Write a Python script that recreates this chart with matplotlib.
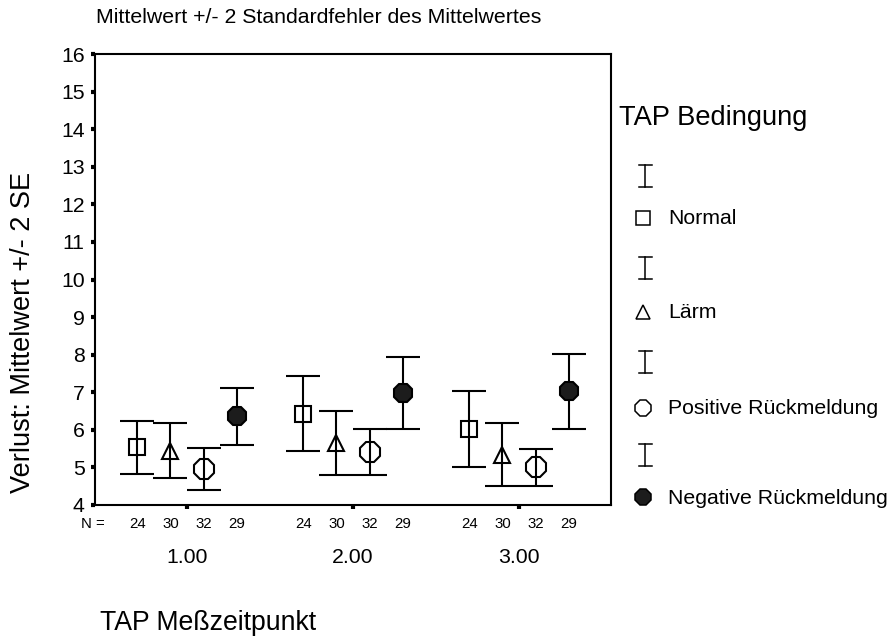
import matplotlib
matplotlib.use("Agg")
import matplotlib.pyplot as plt
from matplotlib.transforms import blended_transform_factory

plt.rcParams['font.family'] = ['Liberation Sans', 'DejaVu Sans']

zeitpunkte = [1, 2, 3]
zeit_labels = ['1.00', '2.00', '3.00']

# Mittelwerte und 2 Standardfehler je Bedingung, Zeitpunkte 1-3
mw_normal = [5.53, 6.43, 6.02]
se2_normal = [0.71, 0.99, 1.00]
mw_laerm = [5.45, 5.65, 5.34]
se2_laerm = [0.73, 0.84, 0.83]
mw_positiv = [4.95, 5.42, 5.00]
se2_positiv = [0.56, 0.61, 0.50]
mw_negativ = [6.36, 6.98, 7.02]
se2_negativ = [0.76, 0.97, 1.00]

n_normal = [24, 24, 24]
n_laerm = [30, 30, 30]
n_positiv = [32, 32, 32]
n_negativ = [29, 29, 29]

bedingungen = ['Normal', 'Lärm', 'Positive Rückmeldung', 'Negative Rückmeldung']

gruppen = [
    (mw_normal, se2_normal, n_normal, 's', 'none', 11.5),
    (mw_laerm, se2_laerm, n_laerm, '^', 'none', 11.5),
    (mw_positiv, se2_positiv, n_positiv, '8', 'none', 15),
    (mw_negativ, se2_negativ, n_negativ, '8', '#1c1c1c', 14.5),
]
versatz = [-0.3, -0.1, 0.1, 0.3]

fig = plt.figure(figsize=(8.93, 6.41), dpi=100)
ax = fig.add_axes([95 / 893, 1 - 505 / 641, 516 / 893, 451 / 641])

n_trans = blended_transform_factory(ax.transData, ax.transAxes)

for (mw, se2, n, mk, fc, ms), dx in zip(gruppen, versatz):
    x = [z + dx for z in zeitpunkte]
    ax.errorbar(x, mw, yerr=se2, fmt='none', ecolor='black',
                elinewidth=1.5, capsize=12.2, capthick=1.5, zorder=2)
    ax.plot(x, mw, linestyle='none', marker=mk, ms=ms, mfc=fc,
            mec='black', mew=1.5, zorder=3)
    for xi, ni in zip(x, n):
        ax.text(xi, -0.042, str(ni), transform=n_trans, ha='center',
                va='center', fontsize=10.8)

ax.text(-0.004, -0.042, 'N =', transform=ax.transAxes, ha='center',
        va='center', fontsize=10.8)

ax.set_xlim(0.446, 3.554)
ax.set_ylim(4, 16)
ax.set_yticks(range(4, 17))
ax.set_xticks(zeitpunkte, zeit_labels)
for s in ax.spines.values():
    s.set_linewidth(1.5)
ax.tick_params(axis='y', direction='out', length=3, width=3, pad=4.5,
               labelsize=15.3)
ax.tick_params(axis='x', direction='out', length=3, width=3, pad=28,
               labelsize=15.3)

fig.text(96 / 893, 1 - 17.5 / 641, 'Mittelwert +/- 2 Standardfehler des Mittelwertes',
         ha='left', va='center', fontsize=15.3)
fig.text(23 / 893, 1 - 332 / 641, 'Verlust: Mittelwert +/- 2 SE', rotation=90,
         ha='center', va='center', fontsize=19.5)
fig.text(100 / 893, 1 - 623 / 641, 'TAP Meßzeitpunkt', ha='left',
         va='center', fontsize=19.2)

# Legende rechts neben dem Diagramm, in Pixelkoordinaten
lg = fig.add_axes([0, 0, 1, 1], facecolor='none')
lg.set_xlim(0, 893)
lg.set_ylim(641, 0)
lg.axis('off')

lg.text(619, 125, 'TAP Bedingung', ha='left', va='baseline', fontsize=19.6)

balken_y = [176, 268, 362, 455]
eintrag_y = [218, 312, 408, 497]
leg_ms = [9.6, 9.6, 12.5, 12]
for (mw, se2, n, mk, fc, ms), by, ey, lms, name in zip(gruppen, balken_y, eintrag_y, leg_ms, bedingungen):
    lg.plot([645, 645], [by - 11, by + 11], color='black', lw=1.1)
    lg.plot([638.5, 651.5], [by - 11, by - 11], color='black', lw=1.1)
    lg.plot([638.5, 651.5], [by + 11, by + 11], color='black', lw=1.1)
    lg.plot([643], [ey], linestyle='none', marker=mk, ms=lms, mfc=fc,
            mec='black', mew=1.1)
    lg.text(668, ey + 1, name, ha='left', va='center', fontsize=15.3)

fig.savefig('out.png', dpi=100)
